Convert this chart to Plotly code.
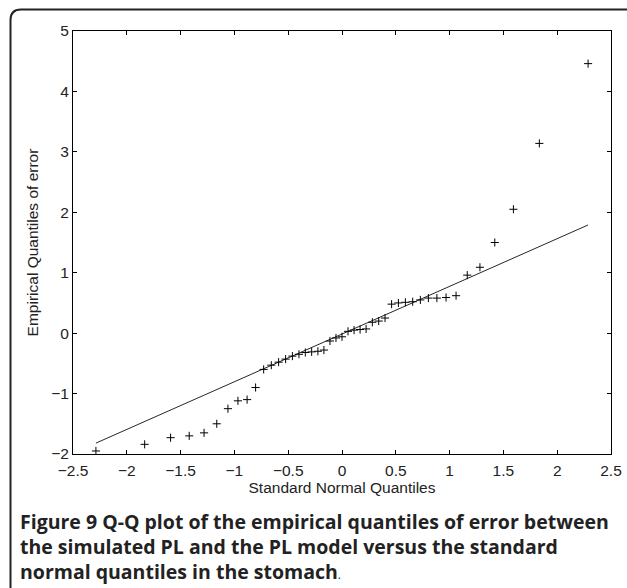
import plotly.graph_objects as go

# ---- data ----
theoretical_q = [-2.287, -1.834, -1.593, -1.420, -1.282, -1.164, -1.060, -0.967, -0.882, -0.803,
                 -0.728, -0.657, -0.589, -0.524, -0.461, -0.400, -0.341, -0.282, -0.224, -0.168,
                 -0.112, -0.056, 0.000, 0.056, 0.112, 0.168, 0.224, 0.282, 0.341, 0.400,
                 0.461, 0.524, 0.589, 0.657, 0.728, 0.803, 0.882, 0.967, 1.060, 1.164,
                 1.282, 1.420, 1.593, 1.834, 2.287]
empirical_q = [-1.95, -1.84, -1.73, -1.70, -1.65, -1.50, -1.25, -1.12, -1.10, -0.90,
               -0.60, -0.53, -0.48, -0.43, -0.38, -0.35, -0.32, -0.31, -0.30, -0.28,
               -0.13, -0.08, -0.06, 0.03, 0.05, 0.06, 0.07, 0.18, 0.20, 0.25,
               0.48, 0.50, 0.51, 0.52, 0.55, 0.58, 0.58, 0.59, 0.62, 0.96,
               1.09, 1.50, 2.05, 3.14, 4.46]
ref_line_x = [-2.287, 2.287]
ref_line_y = [-1.82, 1.79]

x_tickvals = [-2.5, -2, -1.5, -1, -0.5, 0, 0.5, 1, 1.5, 2, 2.5]
x_ticktext = ["−2.5", "−2", "−1.5", "−1", "−0.5", "0", "0.5", "1", "1.5", "2", "2.5"]
y_tickvals = [-2, -1, 0, 1, 2, 3, 4, 5]
y_ticktext = ["−2", "−1", "0", "1", "2", "3", "4", "5"]

x_title = "Standard Normal Quantiles"
y_title = "Empirical Quantiles of error"
caption_lines = [
    "<b>Figure 9 Q-Q plot of the empirical quantiles of error between</b>",
    "<b>the simulated PL and the PL model versus the standard</b>",
    "<b>normal quantiles in the stomach</b><span style='font-size:12px'>.</span>",
]

# ---- layout geometry (pixels) ----
W, H = 627, 588
ML, MR, MT, MB = 73, 16, 31, 134
PW = W - ML - MR
PH = H - MT - MB


def px(xp):
    return (xp - ML) / PW


def py(yp):
    return (H - MB - yp) / PH


fig = go.Figure()
fig.add_trace(go.Scatter(
    x=ref_line_x, y=ref_line_y, mode="lines",
    line=dict(color="#1f2a22", width=1), showlegend=False, hoverinfo="skip"))
fig.add_trace(go.Scatter(
    x=theoretical_q, y=empirical_q, mode="markers",
    marker=dict(symbol="cross-thin", size=5.8, color="black",
                line=dict(color="black", width=1)),
    showlegend=False))

axis_font = dict(family="Liberation Sans, Arial, sans-serif", size=15.5, color="#222")

fig.update_layout(
    width=W, height=H,
    margin=dict(l=ML, r=MR, t=MT, b=MB, autoexpand=False),
    paper_bgcolor="white", plot_bgcolor="white",
    font=axis_font,
    xaxis=dict(range=[-2.5, 2.5], tickvals=x_tickvals, ticktext=x_ticktext,
               showgrid=False, zeroline=False, showline=True, linecolor="black",
               linewidth=1, mirror="ticks", ticks="inside", ticklen=4,
               tickcolor="black", tickfont=axis_font, ticklabelstandoff=2,
               title=dict(text=x_title, font=axis_font, standoff=2),
               automargin=False),
    yaxis=dict(range=[-2, 5], tickvals=y_tickvals, ticktext=y_ticktext,
               showgrid=False, zeroline=False, showline=True, linecolor="black",
               linewidth=1, mirror="ticks", ticks="inside", ticklen=4,
               tickcolor="black", tickfont=axis_font,
               title=dict(text=y_title, font=axis_font, standoff=8),
               automargin=False),
)

# rounded frame: left edge and top edge with a rounded top-left corner
path = (f"M {px(10.5)},{py(H + 5)} L {px(10.5)},{py(20)} "
        f"Q {px(10.5)},{py(9.5)} {px(21)},{py(9.5)} L {px(W + 5)},{py(9.5)}")
fig.add_shape(type="path", path=path, xref="paper", yref="paper",
              line=dict(color="#222", width=2), layer="above")

cap_font = dict(family="Open Sans, Noto Sans, sans-serif", size=19.5, color="#222")
for i, line in enumerate(caption_lines):
    fig.add_annotation(text=line, xref="paper", yref="paper",
                       x=px(18), y=py(521 + 25 * i), xanchor="left", yanchor="middle",
                       showarrow=False, align="left", font=cap_font)

fig.write_html("out.html", config={"displayModeBar": False},
               post_script="document.body.style.margin='0';document.body.style.overflow='hidden';")
